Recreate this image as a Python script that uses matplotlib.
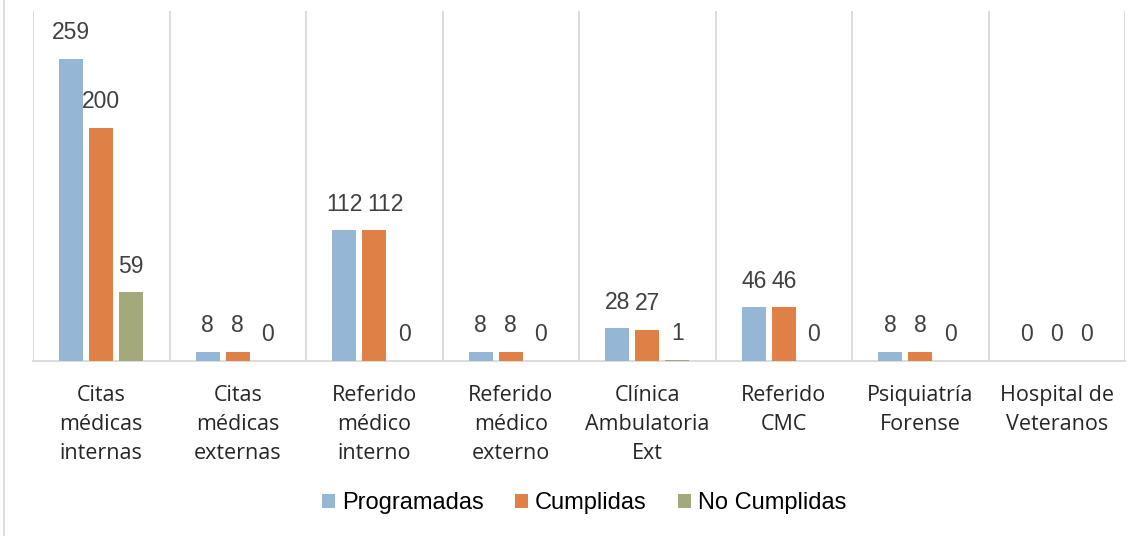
import matplotlib
matplotlib.use('Agg')
import matplotlib.pyplot as plt
import matplotlib.font_manager as fm
import numpy as np
from matplotlib.lines import Line2D

categorias = ['Citas\nmédicas\ninternas', 'Citas\nmédicas\nexternas', 'Referido\nmédico\ninterno',
              'Referido\nmédico\nexterno', 'Clínica\nAmbulatoria\nExt', 'Referido\nCMC',
              'Psiquiatría\nForense', 'Hospital de\nVeteranos']
programadas = [259, 8, 112, 8, 28, 46, 8, 0]
cumplidas = [200, 8, 112, 8, 27, 46, 8, 0]
no_cumplidas = [59, 0, 0, 0, 1, 0, 0, 0]

series = ['Programadas', 'Cumplidas', 'No Cumplidas']
colores = ['#95B6D5', '#DF8047', '#A4A97C']

# buscar el archivo regular de Liberation Sans (no la Narrow)
ruta = None
for f in fm.findSystemFonts():
    if f.endswith('LiberationSans-Regular.ttf'):
        ruta = f
        break
if ruta:
    arial = lambda s: fm.FontProperties(fname=ruta, size=s)
else:
    arial = lambda s: fm.FontProperties(family='Liberation Sans', size=s)

fig = plt.figure(figsize=(11.43, 5.36), dpi=100)
ax = fig.add_axes([33/1143, 1 - 361/536, (1125 - 33)/1143, (361 - 11)/536])

x = np.arange(len(categorias))
ancho = 0.176
paso = 0.22
datos = [programadas, cumplidas, no_cumplidas]
for i, (vals, nombre, c) in enumerate(zip(datos, series, colores)):
    pos = x + (i - 1) * paso
    ax.bar(pos, vals, width=ancho, color=c, label=nombre, zorder=3)
    for j, (p, v) in enumerate(zip(pos, vals)):
        dx = 0
        # como en Excel: si dos etiquetas de 3 cifras quedan juntas, separarlas
        if i == 1 and v >= 100 and abs(programadas[j] - v) < 20:
            dx = 8
        ax.annotate(str(v), (p, v), xytext=(dx, 10.5), textcoords='offset points',
                    ha='center', va='bottom', color='#404040', fontproperties=arial(16.5))

ax.set_xlim(-0.5, len(categorias) - 0.5)
ax.set_ylim(0, 300)
ax.set_yticks([])
ax.set_xticks(x)
ax.set_xticklabels(categorias, fontsize=15.5, family='Open Sans', color='#262626', linespacing=1.5)
ax.tick_params(axis='x', length=0, pad=17)
ax.set_xticks(np.arange(-0.5, len(categorias)), minor=True)
ax.tick_params(axis='x', which='minor', length=0)
ax.grid(axis='x', which='minor', color='#d9d9d9', linewidth=1.3, zorder=0)
for s in ['top', 'right', 'left']:
    ax.spines[s].set_visible(False)
ax.spines['bottom'].set_color('#d9d9d9')
ax.spines['bottom'].set_linewidth(1.3)

fig.legend(loc='center', bbox_to_anchor=(584/1143, 1 - 503/536), ncol=3, frameon=False,
           prop=arial(17), handlelength=0.55, handleheight=0.55,
           handletextpad=0.32, columnspacing=1.3)

fig.add_artist(Line2D([4/1143, 4/1143], [0, 1], transform=fig.transFigure, color='#d9d9d9', linewidth=1.3))

fig.savefig('out.png', dpi=100)
